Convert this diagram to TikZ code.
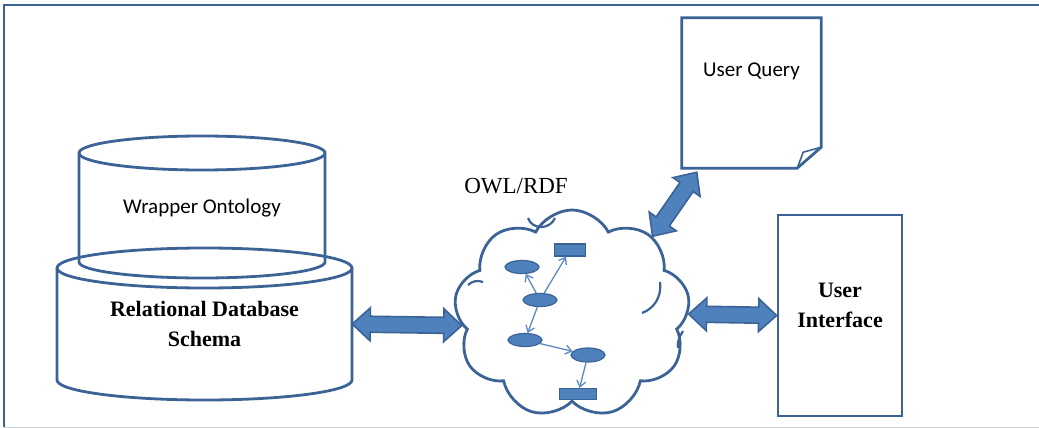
\documentclass[tikz,border=0pt]{standalone}
\usepackage{fontspec}
\setmainfont{Liberation Serif}
\newfontfamily\calibfont{Carlito}
\usetikzlibrary{shapes.symbols,shapes.geometric,arrows.meta,calc}
\definecolor{edgeblue}{HTML}{3B6396}
\definecolor{fillblue}{HTML}{4F81BD}
\definecolor{linkblue}{HTML}{5A8AC6}
\tikzset{
  outline/.style={draw=edgeblue, line width=2.8},
  bigarr/.style={draw=edgeblue, fill=fillblue, line width=1.6, line join=miter},
  item/.style={draw=edgeblue, fill=fillblue, line width=1.2, inner sep=0},
  link/.style={draw=linkblue, line width=1.3, -{Straight Barb[length=6pt,width=9pt]}},
  sanslab/.style={font=\calibfont\fontsize{21}{25}\selectfont},
  seriflab/.style={font=\bfseries\fontsize{22}{30}\selectfont, align=center},
}
\newcommand{\bigarrow}[2]{%
  \path[bigarr] let \p1=($(#2)-(#1)$), \n1={veclen(\x1,\y1)}, \n2={atan2(\y1,\x1)} in
    [shift={(#1)}, rotate=\n2]
    (0,0) -- (18,16.5) -- (18,8) -- (\n1-18,8) -- (\n1-18,16.5) -- (\n1,0)
    -- (\n1-18,-16.5) -- (\n1-18,-8) -- (18,-8) -- (18,-16.5) -- cycle;}
\begin{document}
\begin{tikzpicture}[x=1pt, y=-1pt]
  \useasboundingbox (0,0) rectangle (1039,428);
  \draw[edgeblue, line width=2.5] (1045,5) -- (4,5) -- (4,427);
  \draw[gray!40, line width=1] (4,427) -- (1045,427);

  \draw[outline] (202,153) ellipse[x radius=123, y radius=17];
  \draw[outline] (79,153) -- (79,262) arc[start angle=180, end angle=0, x radius=123, y radius=16] -- (325,153);
  \draw[outline] (204.5,268) ellipse[x radius=147.5, y radius=20];
  \draw[outline] (57,268) -- (57,380) arc[start angle=180, end angle=0, x radius=147.5, y radius=20] -- (352,268);
  \node[sanslab] (wrapper) at (202,208) {Wrapper Ontology};
  \node[seriflab, minimum width=295, minimum height=112, inner sep=0] (db) at (204.5,324) {Relational Database\\Schema};

  \node[cloud, outline, cloud puffs=9, cloud puff arc=125, aspect=1.15,
        minimum width=236, minimum height=208, inner sep=0] (cloud) at (572,314) {};
  \draw[outline, line width=2.2] (528,218) .. controls (532,230) and (550,230) .. (555,218);
  \draw[outline, line width=2.2] (660,282) .. controls (662,298) and (653,309) .. (642,313);
  \draw[outline, line width=2.2] (468,285) .. controls (472,281) and (478,280) .. (483,282);
  \draw[outline, line width=2.2] (683,331) .. controls (679,337) and (677,343) .. (678,348);
  \node[font=\fontsize{23}{27}\selectfont] (owl) at (516,186) {OWL/RDF};

  \node[item, ellipse, minimum width=34, minimum height=13] (e1) at (522,267) {};
  \node[item, minimum width=31, minimum height=12] (r1) at (570,250) {};
  \node[item, ellipse, minimum width=34, minimum height=13] (e2) at (540,300) {};
  \node[item, ellipse, minimum width=34, minimum height=13] (e3) at (525,340) {};
  \node[item, ellipse, minimum width=34, minimum height=14] (e4) at (588,355) {};
  \node[item, minimum width=37, minimum height=11] (r2) at (578,394) {};
  \draw[link] (e2) -- (e1);
  \draw[link] (e2) -- (r1);
  \draw[link] (e2) -- (e3);
  \draw[link] (e3) -- (e4);
  \draw[link] (e4) -- (r2);

  \node[minimum width=139, minimum height=150, inner sep=0] (query) at (751.5,93) {};
  \draw[outline, line join=miter] (query.north west) -- (query.north east)
    -- ($(query.south east)+(0,-21)$) -- ($(query.south east)+(-24,0)$)
    -- (query.south west) -- cycle;
  \draw[edgeblue, line width=1.6] ($(query.south east)+(0,-21)$) -- ($(query.south east)+(-18,-16)$)
    -- ($(query.south east)+(-24,0)$);
  \node[sanslab] (qlabel) at ($(query.north)+(0,54)$) {User Query};
  \coordinate (qtip) at ($(query.south west)+(15,4)$);

  \node[outline, minimum width=124, minimum height=201, inner sep=0] (ui) at (840,315.5) {};
  \node[seriflab] (uitext) at ($(ui)+(0,-10)$) {User\\Interface};

  \bigarrow{db.east}{cloud.186}
  \bigarrow{cloud.east}{ui.west}
  \bigarrow{cloud.44}{qtip}
\end{tikzpicture}
\end{document}
